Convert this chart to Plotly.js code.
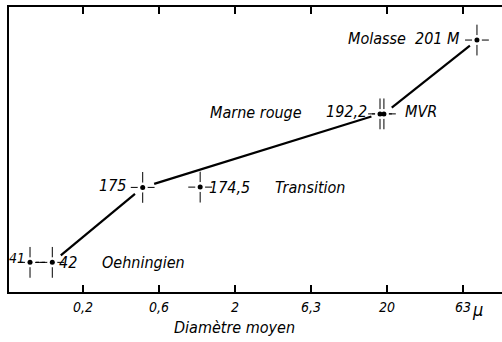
<!DOCTYPE html>
<html>
<head>
<meta charset="utf-8">
<script src="https://cdn.plot.ly/plotly-3.0.1.min.js"></script>
<style>html,body{margin:0;padding:0;background:#fff;}#chart{width:502px;height:342px;}</style>
</head>
<body>
<div id="chart"></div>
<script>
// ---- data ----
const sampleX = [0.0896, 0.1256, 0.494, 1.18, 18.0, 19.1, 78.2];   // mean diameter (µ)
const sampleY = [10.4, 10.4, 36.7, 36.8, 62.5, 62.5, 88.4];        // relative ordinate
const sampleLabels = ['41', '42', '175', '174,5', '192,2', 'MVR', '201 M'];
const groupNames = ['Oehningien', 'Transition', 'Marne rouge', 'Molasse'];
const groupX = [0.258, 3.55, 1.33, 10.7];
const groupY = [10.2, 36.6, 62.9, 89.1];
const tickVals = [0.2, 0.632, 2, 6.32, 20, 63.2];
const tickText = ['0,2', '0,6', '2', '6,3', '20', '63'];
const xTitle = 'Diamètre moyen';

// ---- layout constants ----
const W = 502, H = 342, M = {l: 9, r: 0, t: 7, b: 50};
const PW = W - M.l - M.r, PH = H - M.t - M.b;
const XR = [-1.186, 2.058], YR = [0, 100];
const FONT = 'DejaVu Sans Condensed, Liberation Sans Narrow, sans-serif';

function toPx(x, y) { return [(Math.log10(x) - XR[0]) / (XR[1] - XR[0]) * PW, (y - YR[0]) / (YR[1] - YR[0]) * PH]; }
function fromPx(px, py) { return [Math.pow(10, XR[0] + px / PW * (XR[1] - XR[0])), YR[0] + py / PH * (YR[1] - YR[0])]; }
function segment(i, j, g0, g1) {
  const a = toPx(sampleX[i], sampleY[i]), b = toPx(sampleX[j], sampleY[j]);
  const dx = b[0] - a[0], dy = b[1] - a[1], L = Math.hypot(dx, dy);
  const p = fromPx(a[0] + dx * g0 / L, a[1] + dy * g0 / L);
  const q = fromPx(b[0] - dx * g1 / L, b[1] - dy * g1 / L);
  return {x: [p[0], q[0]], y: [p[1], q[1]], mode: 'lines', type: 'scatter', hoverinfo: 'skip',
          line: {color: '#000', width: 2.2}};
}

const traces = [
  // dashed link between 41 and 42
  {x: [sampleX[0], sampleX[1]], y: [sampleY[0], sampleY[1]], mode: 'lines', type: 'scatter', hoverinfo: 'skip',
   line: {color: '#000', width: 1.2, dash: '3px,3px'}},
  segment(1, 2, 11, 10),
  segment(2, 4, 12, 9),
  segment(5, 6, 10, 9),
  // crosshair markers
  {x: sampleX, y: sampleY, mode: 'markers', type: 'scatter', hoverinfo: 'skip',
   marker: {symbol: 'line-ns', size: 22, line: {color: '#000', width: 1}}},
  {x: sampleX, y: sampleY, mode: 'markers', type: 'scatter', hoverinfo: 'skip',
   marker: {symbol: 'line-ew', size: 17, line: {color: '#000', width: 1}}},
  {x: sampleX, y: sampleY, mode: 'markers', type: 'scatter', hoverinfo: 'skip',
   marker: {symbol: 'circle', size: 10, color: '#fff', line: {width: 0}}},
  {x: sampleX, y: sampleY, mode: 'markers', type: 'scatter', hoverinfo: 'skip',
   marker: {symbol: 'circle', size: 5, color: '#000', line: {width: 0}}}
];

const lblFont = {family: FONT, size: 16, color: '#000', style: 'italic'};
// side: -1 label left of point, +1 right of point
const labelSide = [-1, 1, -1, 1, -1, 1, -1];
const labelShift = [3, 5, 15, 7, 11, 19, 15];
const labelYShift = [4, 0, 2, 0, 2, 2, 2];
const annotations = sampleLabels.map((t, i) => ({
  x: Math.log10(sampleX[i]), y: sampleY[i], xref: 'x', yref: 'y', text: t, showarrow: false,
  xanchor: labelSide[i] < 0 ? 'right' : 'left', xshift: labelSide[i] * labelShift[i], yshift: labelYShift[i],
  font: i === 0 ? {family: FONT, size: 14, color: '#000', style: 'italic'} : lblFont
}));
groupNames.forEach((t, i) => annotations.push({
  x: Math.log10(groupX[i]), y: groupY[i], xref: 'x', yref: 'y', text: t, showarrow: false,
  xanchor: 'left', font: lblFont
}));
annotations.push({x: Math.log10(tickVals[5]), y: 0, xref: 'x', yref: 'y', text: 'μ', showarrow: false,
  xanchor: 'left', yanchor: 'top', xshift: 7, yshift: -5, font: {family: FONT, size: 18, color: '#000', style: 'italic'}});
annotations.push({x: 0.458, y: -0.126, xref: 'paper', yref: 'paper', text: xTitle, showarrow: false,
  xanchor: 'center', yanchor: 'middle', font: {family: FONT, size: 16, color: '#000', style: 'italic'}});

const layout = {
  width: W, height: H, margin: M, showlegend: false,
  paper_bgcolor: '#fff', plot_bgcolor: '#fff',
  xaxis: {type: 'log', range: XR, tickvals: tickVals, ticktext: tickText, ticks: 'inside', ticklen: 7,
          tickwidth: 1.5, tickcolor: '#000', showline: true, linecolor: '#000', linewidth: 2, mirror: 'allticks',
          showgrid: false, zeroline: false, ticklabelstandoff: 1,
          tickfont: {family: FONT, size: 14, color: '#000', style: 'italic'}},
  yaxis: {range: YR, showticklabels: false, ticks: '', showline: true, linecolor: '#000', linewidth: 2,
          showgrid: false, zeroline: false},
  annotations: annotations
};

Plotly.newPlot('chart', traces, layout, {staticPlot: true, displayModeBar: false});
</script>
</body>
</html>
